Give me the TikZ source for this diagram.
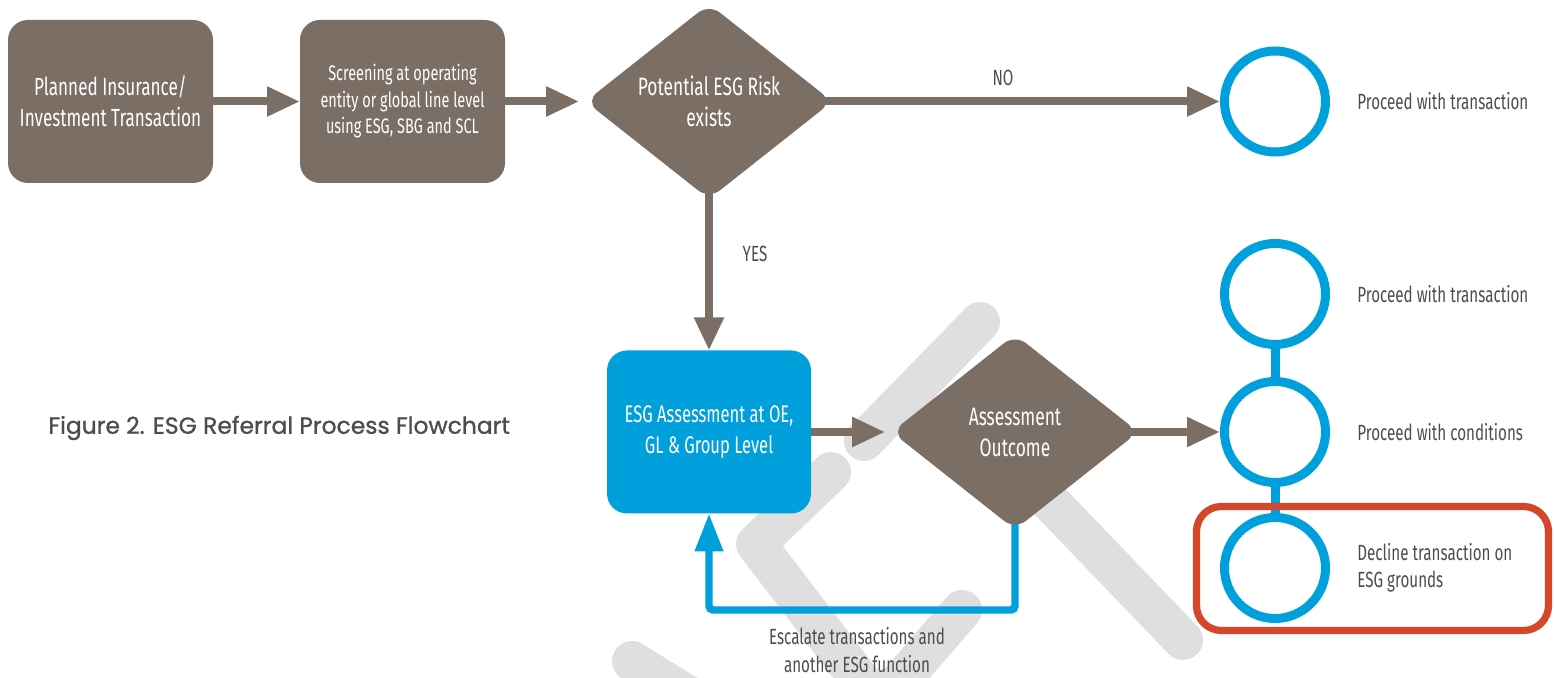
\documentclass[tikz,border=0pt]{standalone}
\usepackage{fontspec}
\usepackage{tikz}
\usetikzlibrary{shapes.geometric, arrows.meta, positioning, backgrounds}
\usepackage{xcolor}
\definecolor{esg-brown}{HTML}{7A6E65}
\definecolor{esg-blue}{HTML}{00A0DC}
\definecolor{esg-red}{HTML}{D4472A}
\definecolor{esg-text}{HTML}{4D4D4F}
\definecolor{esg-mark}{HTML}{DFDFDF}
\newfontfamily\condfont[FakeStretch=0.69]{Fira Sans}
\newfontfamily\titlefont[FakeBold=1]{Poppins}

\begin{document}
\begin{tikzpicture}[x=0.5pt, y={(0pt,-0.5pt)},
    stepbox/.style={fill=esg-brown, rounded corners=10pt, minimum width=102.5pt,
      minimum height=81.5pt, inner sep=2pt, outer sep=0pt, align=center, text=white,
      font=\condfont\fontsize{12.4}{15.5}\selectfont},
    decision/.style={diamond, aspect=1.26, fill=esg-brown, rounded corners=7pt,
      minimum width=123.4pt, minimum height=97.5pt, inner sep=0pt, outer sep=0pt,
      align=center, text=white, font=\condfont\fontsize{12.6}{15.5}\selectfont},
    outcome/.style={circle, draw=esg-blue, line width=4.5pt, fill=white,
      minimum size=50.5pt, inner sep=0pt},
    outlabel/.style={inner sep=0pt, align=left, text=esg-text,
      font=\condfont\fontsize{11}{13.5}\selectfont},
    flowlabel/.style={inner sep=0pt, align=center, text=esg-text,
      font=\condfont\fontsize{11}{14}\selectfont},
    flowarrow/.style={draw=esg-brown, line width=4pt,
      -{Triangle[length=16.5pt, width=14pt]}},
    loopline/.style={draw=esg-blue, line width=3.7pt, rounded corners=2pt,
      -{Triangle[length=19pt, width=13.5pt]}},
    linkline/.style={draw=esg-blue, line width=4.5pt},
    watermark/.style={draw=esg-mark, line width=20pt, line cap=round, line join=round}]
  \useasboundingbox (0,0) rectangle (1554,678);

  % top row
  \node[stepbox] (plannedtx) at (110.5,101.5) {Planned Insurance/\\Investment Transaction};
  \node[stepbox, font=\condfont\fontsize{10.5}{13.25}\selectfont] (screening) at (402.5,101.5)
    {Screening at operating\\entity or global line level\\using ESG, SBG and SCL};
  \node[decision] (riskdec) at (709,101.5) {Potential ESG Risk\\exists};

  % assessment row
  \node[stepbox, fill=esg-blue, minimum width=102pt, font=\condfont\fontsize{12}{15.5}\selectfont]
    (assessbox) at (709,432) {ESG Assessment at OE,\\GL \& Group Level};
  \node[decision] (outcomedec) at (1015,432) {Assessment\\Outcome};
  \coordinate (loopturn) at (709,610);

  % outcomes
  \node[outcome] (proceedA) at (1275,101.5) {};
  \node[outcome] (proceedB) at (1275,294) {};
  \node[outcome] (conditions) at (1275,432) {};
  \node[outcome] (decline) at (1275,568) {};
  \node[draw=esg-red, line width=3.6pt, rounded corners=12.5pt, minimum width=176pt,
    minimum height=62pt] (declineframe) at (1372.5,568.5) {};

  \node[outlabel, right=13.5pt of proceedA] (proceedAtxt) {Proceed with transaction};
  \node[outlabel, right=13.5pt of proceedB] (proceedBtxt) {Proceed with transaction};
  \node[outlabel, right=13.5pt of conditions] (conditionstxt) {Proceed with conditions};
  \node[outlabel, right=13.5pt of decline] (declinetxt) {Decline transaction on\\ESG grounds};

  \node[flowlabel] (nolabel) at (1003,78) {NO};
  \node[flowlabel] (yeslabel) at (755,254) {YES};
  \node[flowlabel] (escalatetxt) at (857,650) {Escalate transactions and\\another ESG function};

  \node[anchor=west, inner sep=0pt, text=esg-text, font=\titlefont\fontsize{11.7}{13}\selectfont]
    (figtitle) at (48,428) {Figure 2. ESG Referral Process Flowchart};

  \begin{scope}[on background layer]
    \begin{scope}
      \clip (0,0) rectangle (1554,678);
      \draw[watermark] (980,322) -- (864,441);
      \draw[watermark] (831,472) -- (756,544) -- (870,693);
      \draw[watermark] (962,610) -- (880,705);
      \draw[watermark] (1010,460) -- (1183,640);
      \draw[watermark] (632,661) -- (740,728);
    \end{scope}
    \draw[flowarrow] (plannedtx) -- (screening);
    \draw[flowarrow, shorten >=3.2pt] (screening) -- (riskdec);
    \draw[flowarrow] (riskdec.center) -- (proceedA);
    \draw[flowarrow] (riskdec.center) -- (assessbox);
    \draw[flowarrow, shorten >=3.2pt] (assessbox) -- (outcomedec);
    \draw[flowarrow] (outcomedec.center) -- (conditions);
    \draw[linkline] (proceedB) -- (conditions);
    \draw[linkline] (conditions) -- (decline);
    \draw[loopline] (outcomedec.center) |- (loopturn) -- (assessbox);
  \end{scope}
\end{tikzpicture}
\end{document}
